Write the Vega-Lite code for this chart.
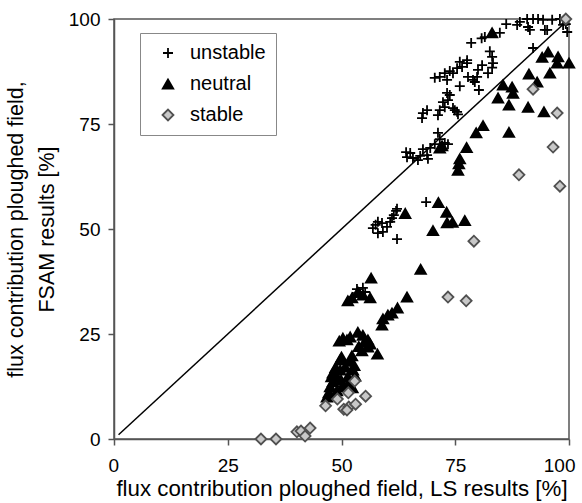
{
  "$schema": "https://vega.github.io/schema/vega-lite/v6.json",
  "width": 455,
  "height": 420,
  "autosize": "none",
  "padding": {"left": 114, "top": 19, "right": 13, "bottom": 64},
  "background": "white",
  "config": {
    "font": "Liberation Sans",
    "view": {"stroke": "#555555", "strokeWidth": 1.5}
  },
  "datasets": {
    "diag": [{"ls": 1, "fsam": 1}, {"ls": 100, "fsam": 100}],
    "pts": [
      {"ls": 86.2, "fsam": 98.8, "stability": "unstable"},
      {"ls": 88.6, "fsam": 98.6, "stability": "unstable"},
      {"ls": 89.2, "fsam": 99.3, "stability": "unstable"},
      {"ls": 90.8, "fsam": 100, "stability": "unstable"},
      {"ls": 91, "fsam": 98.1, "stability": "unstable"},
      {"ls": 92.1, "fsam": 100, "stability": "unstable"},
      {"ls": 93.2, "fsam": 100, "stability": "unstable"},
      {"ls": 94.3, "fsam": 99.8, "stability": "unstable"},
      {"ls": 94.7, "fsam": 97.4, "stability": "unstable"},
      {"ls": 96.3, "fsam": 99.8, "stability": "unstable"},
      {"ls": 98, "fsam": 100, "stability": "unstable"},
      {"ls": 98.7, "fsam": 98.6, "stability": "unstable"},
      {"ls": 99.6, "fsam": 96.9, "stability": "unstable"},
      {"ls": 99.3, "fsam": 98.8, "stability": "unstable"},
      {"ls": 91.4, "fsam": 97.4, "stability": "unstable"},
      {"ls": 95.2, "fsam": 97.4, "stability": "unstable"},
      {"ls": 84.8, "fsam": 96.7, "stability": "unstable"},
      {"ls": 81.5, "fsam": 95.7, "stability": "unstable"},
      {"ls": 80.8, "fsam": 95.4, "stability": "unstable"},
      {"ls": 78.5, "fsam": 94.3, "stability": "unstable"},
      {"ls": 82.6, "fsam": 92.3, "stability": "unstable"},
      {"ls": 83.1, "fsam": 91, "stability": "unstable"},
      {"ls": 92.1, "fsam": 93.1, "stability": "unstable"},
      {"ls": 83.3, "fsam": 89.5, "stability": "unstable"},
      {"ls": 83.1, "fsam": 88.4, "stability": "unstable"},
      {"ls": 80.9, "fsam": 89, "stability": "unstable"},
      {"ls": 80, "fsam": 87.9, "stability": "unstable"},
      {"ls": 82.2, "fsam": 87.1, "stability": "unstable"},
      {"ls": 77.6, "fsam": 89.5, "stability": "unstable"},
      {"ls": 77.6, "fsam": 90.2, "stability": "unstable"},
      {"ls": 76, "fsam": 89.8, "stability": "unstable"},
      {"ls": 76.5, "fsam": 88.6, "stability": "unstable"},
      {"ls": 75.4, "fsam": 88.3, "stability": "unstable"},
      {"ls": 74.5, "fsam": 87.1, "stability": "unstable"},
      {"ls": 73.8, "fsam": 87.6, "stability": "unstable"},
      {"ls": 72.7, "fsam": 87.1, "stability": "unstable"},
      {"ls": 71.6, "fsam": 86.2, "stability": "unstable"},
      {"ls": 70.5, "fsam": 86, "stability": "unstable"},
      {"ls": 73.2, "fsam": 85.5, "stability": "unstable"},
      {"ls": 76, "fsam": 84, "stability": "unstable"},
      {"ls": 77.8, "fsam": 86.2, "stability": "unstable"},
      {"ls": 79.8, "fsam": 86.2, "stability": "unstable"},
      {"ls": 79.3, "fsam": 85, "stability": "unstable"},
      {"ls": 78.9, "fsam": 85.5, "stability": "unstable"},
      {"ls": 80.2, "fsam": 83.1, "stability": "unstable"},
      {"ls": 73.2, "fsam": 82.4, "stability": "unstable"},
      {"ls": 73.8, "fsam": 81.9, "stability": "unstable"},
      {"ls": 73.4, "fsam": 80.7, "stability": "unstable"},
      {"ls": 72.3, "fsam": 80.2, "stability": "unstable"},
      {"ls": 72.7, "fsam": 79, "stability": "unstable"},
      {"ls": 74.5, "fsam": 78.8, "stability": "unstable"},
      {"ls": 74.9, "fsam": 78.3, "stability": "unstable"},
      {"ls": 71.6, "fsam": 78.3, "stability": "unstable"},
      {"ls": 68.8, "fsam": 78.3, "stability": "unstable"},
      {"ls": 75.4, "fsam": 77.9, "stability": "unstable"},
      {"ls": 75.6, "fsam": 77.3, "stability": "unstable"},
      {"ls": 71.2, "fsam": 77.1, "stability": "unstable"},
      {"ls": 67.9, "fsam": 77.6, "stability": "unstable"},
      {"ls": 67.7, "fsam": 76.4, "stability": "unstable"},
      {"ls": 71.2, "fsam": 72.9, "stability": "unstable"},
      {"ls": 71.6, "fsam": 71.4, "stability": "unstable"},
      {"ls": 70.5, "fsam": 70.2, "stability": "unstable"},
      {"ls": 72.7, "fsam": 70.5, "stability": "unstable"},
      {"ls": 73.4, "fsam": 70.2, "stability": "unstable"},
      {"ls": 69.5, "fsam": 69.3, "stability": "unstable"},
      {"ls": 67.9, "fsam": 69, "stability": "unstable"},
      {"ls": 68.8, "fsam": 67.6, "stability": "unstable"},
      {"ls": 67.3, "fsam": 67.4, "stability": "unstable"},
      {"ls": 65.7, "fsam": 66.9, "stability": "unstable"},
      {"ls": 65.1, "fsam": 68.1, "stability": "unstable"},
      {"ls": 64.2, "fsam": 68.3, "stability": "unstable"},
      {"ls": 64.4, "fsam": 67.1, "stability": "unstable"},
      {"ls": 66.8, "fsam": 66.4, "stability": "unstable"},
      {"ls": 69, "fsam": 66.7, "stability": "unstable"},
      {"ls": 68.6, "fsam": 56.4, "stability": "unstable"},
      {"ls": 62.2, "fsam": 54.8, "stability": "unstable"},
      {"ls": 62, "fsam": 54.3, "stability": "unstable"},
      {"ls": 61.5, "fsam": 53.3, "stability": "unstable"},
      {"ls": 61.1, "fsam": 52.6, "stability": "unstable"},
      {"ls": 60.7, "fsam": 51.7, "stability": "unstable"},
      {"ls": 58.9, "fsam": 51.4, "stability": "unstable"},
      {"ls": 58, "fsam": 51.7, "stability": "unstable"},
      {"ls": 56.9, "fsam": 50.2, "stability": "unstable"},
      {"ls": 59.1, "fsam": 49.3, "stability": "unstable"},
      {"ls": 58, "fsam": 49, "stability": "unstable"},
      {"ls": 60, "fsam": 50.5, "stability": "unstable"},
      {"ls": 57.5, "fsam": 51, "stability": "unstable"},
      {"ls": 62.2, "fsam": 47.6, "stability": "unstable"},
      {"ls": 53.4, "fsam": 35.7, "stability": "unstable"},
      {"ls": 54.7, "fsam": 36, "stability": "unstable"},
      {"ls": 54.1, "fsam": 34.3, "stability": "unstable"},
      {"ls": 52.5, "fsam": 33.8, "stability": "unstable"},
      {"ls": 55.2, "fsam": 35, "stability": "unstable"},
      {"ls": 83.1, "fsam": 96.7, "stability": "neutral"},
      {"ls": 94.1, "fsam": 90.9, "stability": "neutral"},
      {"ls": 95.4, "fsam": 92.1, "stability": "neutral"},
      {"ls": 97.6, "fsam": 91, "stability": "neutral"},
      {"ls": 97.4, "fsam": 89.5, "stability": "neutral"},
      {"ls": 100, "fsam": 89.5, "stability": "neutral"},
      {"ls": 91.2, "fsam": 86.9, "stability": "neutral"},
      {"ls": 95.8, "fsam": 87.1, "stability": "neutral"},
      {"ls": 93, "fsam": 85, "stability": "neutral"},
      {"ls": 85.5, "fsam": 84.3, "stability": "neutral"},
      {"ls": 87.5, "fsam": 83.8, "stability": "neutral"},
      {"ls": 87.7, "fsam": 82.3, "stability": "neutral"},
      {"ls": 84.4, "fsam": 81.2, "stability": "neutral"},
      {"ls": 86.8, "fsam": 79.5, "stability": "neutral"},
      {"ls": 91, "fsam": 79, "stability": "neutral"},
      {"ls": 94.5, "fsam": 77.9, "stability": "neutral"},
      {"ls": 81.1, "fsam": 74.6, "stability": "neutral"},
      {"ls": 79.6, "fsam": 72.9, "stability": "neutral"},
      {"ls": 86.8, "fsam": 73, "stability": "neutral"},
      {"ls": 77.5, "fsam": 69.4, "stability": "neutral"},
      {"ls": 76, "fsam": 66.7, "stability": "neutral"},
      {"ls": 75.8, "fsam": 65.5, "stability": "neutral"},
      {"ls": 75.6, "fsam": 64, "stability": "neutral"},
      {"ls": 72.1, "fsam": 69.8, "stability": "neutral"},
      {"ls": 71.6, "fsam": 69.3, "stability": "neutral"},
      {"ls": 71.3, "fsam": 56.3, "stability": "neutral"},
      {"ls": 73.1, "fsam": 54, "stability": "neutral"},
      {"ls": 64, "fsam": 53.7, "stability": "neutral"},
      {"ls": 70.1, "fsam": 49.6, "stability": "neutral"},
      {"ls": 73.2, "fsam": 51.5, "stability": "neutral"},
      {"ls": 74.4, "fsam": 51.6, "stability": "neutral"},
      {"ls": 77.1, "fsam": 52, "stability": "neutral"},
      {"ls": 67.4, "fsam": 40.4, "stability": "neutral"},
      {"ls": 56.5, "fsam": 38.3, "stability": "neutral"},
      {"ls": 64.4, "fsam": 33.8, "stability": "neutral"},
      {"ls": 62.3, "fsam": 31.2, "stability": "neutral"},
      {"ls": 61.1, "fsam": 30, "stability": "neutral"},
      {"ls": 60.2, "fsam": 29.5, "stability": "neutral"},
      {"ls": 59.1, "fsam": 28.6, "stability": "neutral"},
      {"ls": 58.9, "fsam": 27.1, "stability": "neutral"},
      {"ls": 54.7, "fsam": 34.3, "stability": "neutral"},
      {"ls": 52.3, "fsam": 33.6, "stability": "neutral"},
      {"ls": 56.3, "fsam": 33.6, "stability": "neutral"},
      {"ls": 51.4, "fsam": 32.9, "stability": "neutral"},
      {"ls": 53.6, "fsam": 35, "stability": "neutral"},
      {"ls": 50.3, "fsam": 24, "stability": "neutral"},
      {"ls": 51.9, "fsam": 24.3, "stability": "neutral"},
      {"ls": 53.6, "fsam": 25.4, "stability": "neutral"},
      {"ls": 54.7, "fsam": 24.7, "stability": "neutral"},
      {"ls": 55.8, "fsam": 23.6, "stability": "neutral"},
      {"ls": 56.3, "fsam": 22.6, "stability": "neutral"},
      {"ls": 55.8, "fsam": 21.9, "stability": "neutral"},
      {"ls": 57.9, "fsam": 20.2, "stability": "neutral"},
      {"ls": 49.5, "fsam": 23.3, "stability": "neutral"},
      {"ls": 51.2, "fsam": 23.6, "stability": "neutral"},
      {"ls": 52.3, "fsam": 19.8, "stability": "neutral"},
      {"ls": 51.9, "fsam": 18.5, "stability": "neutral"},
      {"ls": 50.8, "fsam": 17.1, "stability": "neutral"},
      {"ls": 49.7, "fsam": 16.4, "stability": "neutral"},
      {"ls": 49, "fsam": 14.8, "stability": "neutral"},
      {"ls": 48.1, "fsam": 13.6, "stability": "neutral"},
      {"ls": 47.5, "fsam": 12.4, "stability": "neutral"},
      {"ls": 46.8, "fsam": 10, "stability": "neutral"},
      {"ls": 47.2, "fsam": 11, "stability": "neutral"},
      {"ls": 52.5, "fsam": 16.4, "stability": "neutral"},
      {"ls": 51.4, "fsam": 14.8, "stability": "neutral"},
      {"ls": 49.7, "fsam": 18.8, "stability": "neutral"},
      {"ls": 48.1, "fsam": 15.7, "stability": "neutral"},
      {"ls": 50.2, "fsam": 12.5, "stability": "neutral"},
      {"ls": 49, "fsam": 11.5, "stability": "neutral"},
      {"ls": 48.5, "fsam": 10.5, "stability": "neutral"},
      {"ls": 51.5, "fsam": 13, "stability": "neutral"},
      {"ls": 53, "fsam": 15, "stability": "neutral"},
      {"ls": 52.8, "fsam": 17.5, "stability": "neutral"},
      {"ls": 50, "fsam": 19.5, "stability": "neutral"},
      {"ls": 48.7, "fsam": 17, "stability": "neutral"},
      {"ls": 49.9, "fsam": 14, "stability": "neutral"},
      {"ls": 52.4, "fsam": 12.2, "stability": "neutral"},
      {"ls": 47.8, "fsam": 14.8, "stability": "neutral"},
      {"ls": 53.8, "fsam": 22, "stability": "neutral"},
      {"ls": 54.5, "fsam": 21, "stability": "neutral"},
      {"ls": 55, "fsam": 23, "stability": "neutral"},
      {"ls": 32.3, "fsam": 0, "stability": "stable"},
      {"ls": 35.6, "fsam": 0, "stability": "stable"},
      {"ls": 40.2, "fsam": 1.7, "stability": "stable"},
      {"ls": 41.1, "fsam": 1.9, "stability": "stable"},
      {"ls": 42, "fsam": 0.7, "stability": "stable"},
      {"ls": 43.1, "fsam": 2.6, "stability": "stable"},
      {"ls": 46.5, "fsam": 7.9, "stability": "stable"},
      {"ls": 49.1, "fsam": 9.5, "stability": "stable"},
      {"ls": 51.5, "fsam": 11, "stability": "stable"},
      {"ls": 52.9, "fsam": 13.8, "stability": "stable"},
      {"ls": 55.3, "fsam": 10.2, "stability": "stable"},
      {"ls": 50.5, "fsam": 7.1, "stability": "stable"},
      {"ls": 51.6, "fsam": 7.6, "stability": "stable"},
      {"ls": 53.1, "fsam": 8.3, "stability": "stable"},
      {"ls": 51.2, "fsam": 6.9, "stability": "stable"},
      {"ls": 79.1, "fsam": 47.1, "stability": "stable"},
      {"ls": 73.4, "fsam": 33.8, "stability": "stable"},
      {"ls": 77.4, "fsam": 32.9, "stability": "stable"},
      {"ls": 92.1, "fsam": 83.3, "stability": "stable"},
      {"ls": 97.4, "fsam": 77.6, "stability": "stable"},
      {"ls": 96.5, "fsam": 69.5, "stability": "stable"},
      {"ls": 89, "fsam": 62.9, "stability": "stable"},
      {"ls": 98, "fsam": 60.2, "stability": "stable"},
      {"ls": 99.3, "fsam": 100, "stability": "stable"}
    ]
  },
  "layer": [
    {
      "data": {"name": "diag"},
      "mark": {"type": "line", "color": "black", "strokeWidth": 1.5},
      "encoding": {
        "x": {"field": "ls", "type": "quantitative"},
        "y": {"field": "fsam", "type": "quantitative"}
      }
    },
    {
      "data": {"name": "pts"},
      "mark": {"type": "point", "filled": true, "opacity": 1, "strokeWidth": 1.8},
      "encoding": {
        "x": {
          "field": "ls", "type": "quantitative",
          "scale": {"domain": [0, 100], "nice": false},
          "axis": {
            "title": "flux contribution ploughed field, LS results [%]",
            "values": [0, 25, 50, 75, 100],
            "grid": false,
            "domainColor": "#555555", "domainWidth": 1.5,
            "tickColor": "#555555", "tickWidth": 1.5, "tickSize": 6,
            "labelFontSize": 19, "labelColor": "black",
            "labelBaseline": "alphabetic", "labelPadding": 26,
            "labelFlush": true, "labelFlushOffset": 6, "labelOverlap": false,
            "titleFontSize": 22.3, "titleFontWeight": "normal", "titleColor": "black",
            "titleBaseline": "alphabetic", "titleY": 56, "titleX": 227.5, "titleAlign": "center"
          }
        },
        "y": {
          "field": "fsam", "type": "quantitative",
          "scale": {"domain": [0, 100], "nice": false},
          "axis": {
            "title": ["flux contribution ploughed field,", "FSAM results [%]"],
            "values": [0, 25, 50, 75, 100],
            "grid": false,
            "domainColor": "#555555", "domainWidth": 1.5,
            "tickColor": "#555555", "tickWidth": 1.5, "tickSize": 6,
            "labelFontSize": 19, "labelColor": "black", "labelPadding": 8,
            "labelFlush": false, "labelOverlap": false, "labelBaseline": "middle",
            "titleFontSize": 21.5, "titleFontWeight": "normal", "titleColor": "black",
            "titleAngle": -90, "titleAlign": "center", "titleBaseline": "alphabetic",
            "titleLineHeight": 31, "titleX": -92, "titleY": 210
          }
        },
        "shape": {
          "field": "stability", "type": "nominal",
          "scale": {"domain": ["unstable", "neutral", "stable"], "range": ["M-1,0H1M0,-1V1", "triangle-up", "diamond"]},
          "legend": {
            "orient": "none", "legendX": 26, "legendY": 14, "title": null,
            "padding": 10, "strokeColor": "#888888", "fillColor": "white",
            "labelFontSize": 20, "labelColor": "black", "labelOffset": 12,
            "symbolOffset": 8, "rowPadding": 11, "symbolStrokeWidth": 1.8,
            "labelExpr": "datum.label + '\u3164'"
          }
        },
        "fill": {
          "field": "stability", "type": "nominal",
          "scale": {"domain": ["unstable", "neutral", "stable"], "range": ["black", "black", "#c8c8c8"]}
        },
        "stroke": {
          "field": "stability", "type": "nominal",
          "scale": {"domain": ["unstable", "neutral", "stable"], "range": ["black", "black", "#505050"]}
        },
        "size": {
          "field": "stability", "type": "nominal",
          "scale": {"domain": ["unstable", "neutral", "stable"], "range": [100, 120, 140]}
        }
      }
    }
  ]
}
